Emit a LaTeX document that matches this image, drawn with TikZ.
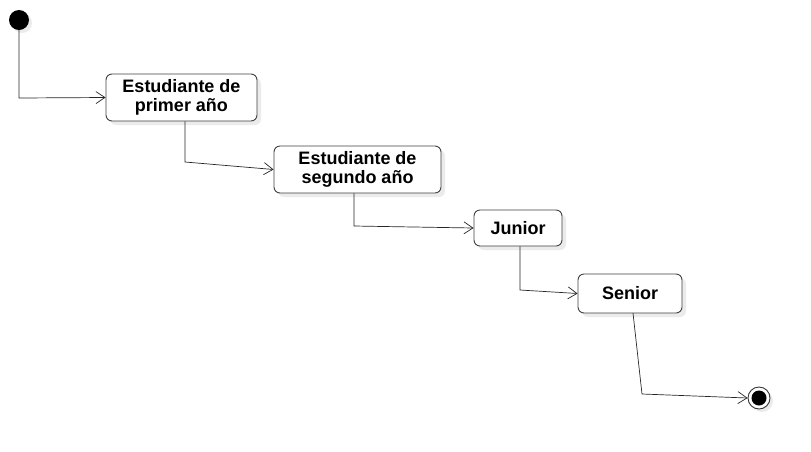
\documentclass[tikz,border=0pt]{standalone}
\usepackage{fontspec}
\setmainfont{Liberation Sans}
\usetikzlibrary{shadows,arrows.meta}
\begin{document}
\begin{tikzpicture}[x=1pt,y=-1pt,
  state/.style={draw=black!75,line width=0.9pt,rounded corners=6pt,fill=white,
    drop shadow={shadow xshift=4pt,shadow yshift=-4pt,fill=black!8,opacity=1},
    font=\fontsize{18}{18.5}\selectfont\bfseries,align=center,inner sep=0pt},
  flow/.style={draw=black!85,line width=0.7pt,-{Straight Barb[length=9pt,width=12pt,line width=0.7pt]}}]
\useasboundingbox (0,0) rectangle (811,451);
\fill[black!8] (22,23) circle (10);
\node[circle,fill=black,minimum size=20pt,inner sep=0pt] (start) at (19,20) {};
\node[state,minimum width=151pt,minimum height=47pt] (s1) at (181.5,97.5) {Estudiante de\\primer año};
\node[state,minimum width=167pt,minimum height=47pt] (s2) at (357.5,169.5) {Estudiante de\\segundo año};
\node[state,minimum width=88pt,minimum height=36pt] (s3) at (518,228) {Junior};
\node[state,minimum width=104pt,minimum height=39pt] (s4) at (630,293.5) {Senior};
\fill[black!8] (762,401) circle (11);
\node[circle,draw=black!80,fill=white,line width=0.9pt,minimum size=22pt,inner sep=0pt] (end) at (759,398) {};
\fill[black] (end.center) circle (7.5);
\coordinate (c1) at (19,98);
\coordinate (c2) at (185,162);
\coordinate (c3) at (354,226);
\coordinate (c4) at (520,290);
\coordinate (c5) at (642,394);
\draw[flow] (start.south) -- (c1) -- (s1.west);
\draw[flow] (s1.south -| c2) -- (c2) -- (s2.west);
\draw[flow] (s2.south -| c3) -- (c3) -- (s3.west);
\draw[flow] (s3.south -| c4) -- (c4) -- (s4.west);
\draw[flow] (633,313) -- (c5) -- (end.west);
\end{tikzpicture}
\end{document}
